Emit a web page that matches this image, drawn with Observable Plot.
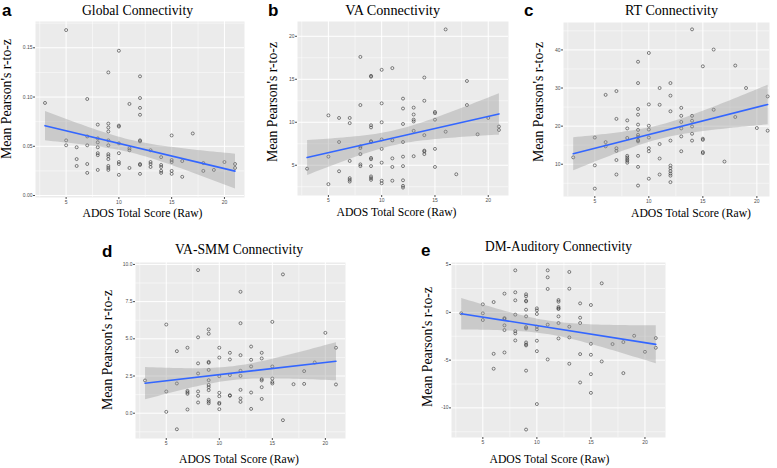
<!DOCTYPE html>
<html><head><meta charset="utf-8">
<script src="https://cdn.jsdelivr.net/npm/d3@7"></script>
<script src="https://cdn.jsdelivr.net/npm/@observablehq/plot@0.6"></script>
<style>
body{margin:0;background:#fff;}
#fig{position:relative;width:777px;height:468px;overflow:hidden;background:#fff;}
</style></head><body><div id="fig"></div><script>
// ---- data ----
const globalX = [3,5,5,5,6,6,6,7,7,7,7,7,8,8,8,8,8,8,8,9,9,9,9,9,9,9,9,9,9,9,9,10,10,10,10,10,10,10,10,11,11,11,11,12,12,12,12,12,12,12,12,12,13,13,13,13,14,14,14,14,14,15,15,15,15,15,16,16,17,18,18,19,20,21,21];
const globalY = [0.094,0.168,0.056,0.051,0.049,0.037,0.030,0.098,0.060,0.051,0.032,0.023,0.072,0.058,0.054,0.049,0.043,0.041,0.026,0.125,0.073,0.069,0.065,0.056,0.051,0.042,0.040,0.037,0.030,0.028,0.026,0.147,0.071,0.070,0.053,0.043,0.034,0.032,0.021,0.093,0.048,0.046,0.028,0.121,0.099,0.089,0.082,0.056,0.055,0.032,0.031,0.022,0.046,0.034,0.032,0.029,0.039,0.031,0.029,0.025,0.023,0.061,0.036,0.034,0.025,0.022,0.035,0.019,0.063,0.033,0.025,0.026,0.034,0.032,0.028];

const vaX = [3,5,5,5,6,6,6,7,7,7,7,7,7,8,8,8,8,8,8,8,9,9,9,9,9,9,9,9,9,9,9,9,10,10,10,10,10,10,10,10,11,11,11,11,11,12,12,12,12,12,12,12,12,12,13,13,13,13,13,13,14,14,14,14,14,14,15,15,15,15,15,16,16,17,18,18,19,20,21,21];
const vaY = [4.6,10.8,6.0,2.8,10.5,7.7,4.3,10.5,9.9,5.5,3.5,3.3,3.1,17.6,12.0,7.2,7.0,6.3,5.1,4.9,15.4,15.3,9.65,9.4,7.8,7.7,5.85,5.7,4.9,3.7,3.5,3.3,16.1,12.2,10.0,8.0,6.9,5.3,3.2,2.9,16.3,7.9,5.8,4.8,3.2,12.75,11.6,9.8,7.7,6.0,4.9,3.25,2.6,2.4,11.7,10.9,10.3,10.1,9.0,6.05,15.2,12.5,8.5,6.7,6.6,6.3,11.2,11.05,10.3,6.9,4.8,20.8,8.9,3.95,14.8,12.0,8.6,10.5,9.5,9.1];

const rtX = [3,5,5,5,6,6,6,7,7,7,7,7,7,8,8,8,8,8,8,8,8,9,9,9,9,9,9,9,9,9,9,9,9,9,10,10,10,10,10,10,10,10,11,11,11,11,11,12,12,12,12,12,12,12,12,12,12,13,13,13,13,13,13,14,14,14,14,14,14,15,15,15,15,15,16,16,17,18,18,19,20,21,21];
const rtY = [11.8,17.0,9.7,3.6,28.2,15.8,14.7,29.2,21.9,14.2,13.5,11.1,7.3,21.5,19.4,16.9,12.2,11.75,11.3,10.9,10.4,36.9,31.3,24.5,23.0,20.4,19.0,17.7,17.1,16.3,16.0,12.2,9.3,4.4,39.2,25.7,20.1,19.1,17.0,14.2,13.4,6.2,30.0,25.6,15.3,11.5,7.3,31.3,28.0,23.9,16.2,9.65,8.95,8.2,7.55,7.0,5.3,24.8,22.7,21.1,19.4,17.3,13.4,45.4,22.7,21.4,19.9,18.0,16.2,35.7,16.7,16.4,13.2,12.9,40.1,24.3,10.7,35.9,22.4,30.0,19.5,27.8,18.8];

const smmX = [3,5,5,5,6,6,6,7,7,7,7,7,8,8,8,8,8,8,8,9,9,9,9,9,9,9,9,9,9,9,9,10,10,10,10,10,10,10,10,11,11,11,11,11,12,12,12,12,12,12,12,12,13,13,13,13,13,14,14,14,14,14,14,15,15,15,15,15,16,16,17,18,18,19,20,21,21];
const smmY = [2.2,5.96,1.46,0.09,4.17,2.0,-1.08,4.4,1.5,1.4,1.3,0.25,9.62,5.1,3.35,2.67,1.46,1.17,0.72,5.63,5.34,3.45,3.39,2.91,2.22,1.9,1.75,1.55,0.9,0.78,0.67,4.4,3.74,2.49,1.37,1.14,0.7,0.63,0.27,4.06,3.61,2.56,1.21,1.17,8.16,6.05,3.9,2.85,2.51,1.57,0.99,0.76,4.48,3.59,3.14,1.39,0.29,4.06,3.68,2.29,2.2,1.75,0.96,6.14,3.14,2.33,2.1,2.0,9.33,-0.47,1.95,2.83,1.97,3.41,5.4,4.4,1.93];

const dmX = [3,5,5,5,6,6,6,7,7,7,7,7,7,8,8,8,8,8,8,8,9,9,9,9,9,9,9,9,9,9,9,9,9,10,10,10,10,10,10,10,10,11,11,11,11,11,12,12,12,12,12,12,12,12,13,13,13,13,13,14,14,14,14,14,15,15,15,15,15,16,16,17,18,18,19,20,21,21];
const dmY = [-0.1,0.84,-0.1,-0.8,1.08,-4.34,-5.9,1.96,-0.6,-0.7,-1.36,-1.85,-4.2,4.4,2.1,1.26,-0.24,-1.96,-2.2,-2.94,1.89,1.68,1.22,1.15,0.28,-0.42,-1.54,-1.68,-3.15,-3.36,-3.46,-6.1,-12.27,0.42,0.21,-0.17,-1.5,-1.78,-2.97,-4.06,-9.6,4.4,3.67,2.45,-1.29,-4.93,1.29,1.12,0.56,0.42,0.35,-0.42,-1.12,-2.73,4.23,2.48,-1.5,-2.62,-5.38,0.94,-0.56,-1.12,-4.37,-7.34,0.77,-3.29,-4.44,-6.47,-8.43,3.04,-5.14,-3.32,-3.11,-6.36,-2.45,-4.13,-2.69,-3.71];

// tick values
const xTicks = [5, 10, 15, 20];
const xMinor = [2.5, 7.5, 12.5, 17.5];
const globalTicks = [0, 0.05, 0.10, 0.15];
const vaTicks = [5, 10, 15, 20];
const rtTicks = [10, 20, 30, 40];
const smmTicks = [0, 2.5, 5, 7.5, 10];
const dmTicks = [-10, -5, 0, 5];

const titles = ["Global Connectivity", "VA Connectivity", "RT Connectivity", "VA-SMM Connectivity", "DM-Auditory Connectivity"];
const letters = ["a", "b", "c", "d", "e"];
const xTitle = "ADOS Total Score (Raw)";
const yTitle = "Mean Pearson's r-to-z";

const minorOf = t => { const s = t[1]-t[0]; return [t[0]-s/2, ...t.map(v => v + s/2)]; };

const panels = [
  {x: globalX, y: globalY, frame: [35, 21, 244, 197], xd: [2.1, 21.9], yd: [-0.002, 0.1767], yt: globalTicks, fmt: d3.format(".2f"),
   letter: [2, 16], title: [137.5, 15, 111], xt: [142.5, 217], yl: [11, 99]},
  {x: vaX, y: vaY, frame: [297, 21, 508, 195], xd: [2.1, 21.9], yd: [1.48, 21.72], yt: vaTicks, fmt: d => String(d),
   letter: [268, 16], title: [392.7, 15, 95], xt: [396.5, 216], yl: [277, 102]},
  {x: rtX, y: rtY, frame: [563, 22, 769, 196], xd: [2.1, 21.17], yd: [1.53, 47.2], yt: rtTicks, fmt: d => String(d),
   letter: [524, 16], title: [671.5, 15, 93], xt: [691, 217], yl: [543, 102]},
  {x: smmX, y: smmY, frame: [135, 262, 345, 438], xd: [2.1, 21.9], yd: [-1.7, 10.13], yt: smmTicks, fmt: d3.format(".1f"),
   letter: [102, 257], title: [239, 254, 128], xt: [239, 463], yl: [112, 350]},
  {x: dmX, y: dmY, frame: [451, 262, 665, 437], xd: [2.1, 21.9], yd: [-13.1, 5.22], yt: dmTicks, fmt: d => String(d),
   letter: [421, 256], title: [558.5, 251, 147], xt: [549.5, 463], yl: [432, 347]}
];

const fig = document.getElementById("fig");
const ml = 26, mr = 2, mt = 2, mb = 12;
panels.forEach(p => {
  const data = p.x.map((x, i) => ({x, y: p.y[i]}));
  const fw = p.frame[2] - p.frame[0], fh = p.frame[3] - p.frame[1];
  const inY = v => v >= p.yd[0] && v <= p.yd[1];
  const inX = v => v >= p.xd[0] && v <= p.xd[1];
  const grid = {stroke: "#ffffff", strokeOpacity: 1};
  const chart = Plot.plot({
    width: fw + ml + mr, height: fh + mt + mb,
    marginLeft: ml, marginRight: mr, marginTop: mt, marginBottom: mb,
    x: {domain: p.xd}, y: {domain: p.yd},
    style: {background: "transparent", color: "#4D4D4D", fontFamily: "Liberation Sans, Arial, sans-serif", overflow: "visible"},
    marks: [
      Plot.frame({fill: "#EBEBEB", stroke: "none"}),
      Plot.gridX(xMinor.filter(inX), {...grid, strokeWidth: 0.5}),
      Plot.gridY(minorOf(p.yt).filter(inY), {...grid, strokeWidth: 0.5}),
      Plot.gridX(xTicks, {...grid, strokeWidth: 1}),
      Plot.gridY(p.yt, {...grid, strokeWidth: 1}),
      Plot.dot(data, {x: "x", y: "y", r: 1.5, stroke: "#333333", strokeWidth: 0.6, fill: "none"}),
      Plot.linearRegressionY(data, {x: "x", y: "y", stroke: "#3366FF", strokeWidth: 1.6, fill: "#999999", fillOpacity: 0.4, ci: 0.95}),
      Plot.axisX({ticks: xTicks, tickSize: 2, tickPadding: 1, fontSize: 5, label: null, tickFormat: d => String(d)}),
      Plot.axisY({ticks: p.yt, tickSize: 2, tickPadding: 1, fontSize: 5, label: null, tickFormat: p.fmt})
    ]
  });
  chart.style.position = "absolute";
  chart.style.left = (p.frame[0] - ml) + "px";
  chart.style.top = (p.frame[1] - mt) + "px";
  chart.style.maxWidth = "none";
  fig.appendChild(chart);
});

// text overlay
const ov = d3.select(fig).append("svg")
  .attr("width", 777).attr("height", 468)
  .style("position", "absolute").style("left", "0px").style("top", "0px")
  .style("pointer-events", "none");
const serif = "Liberation Serif, Times New Roman, serif";
panels.forEach((p, i) => {
  ov.append("text").attr("x", p.letter[0]).attr("y", p.letter[1])
    .attr("font-family", "Liberation Sans, Arial, sans-serif").attr("font-weight", "bold").attr("font-size", 17)
    .text(letters[i]);
  ov.append("text").attr("x", p.title[0]).attr("y", p.title[1]).attr("text-anchor", "middle")
    .attr("font-family", serif).attr("font-size", 14)
    .attr("textLength", p.title[2]).attr("lengthAdjust", "spacingAndGlyphs")
    .text(titles[i]);
  ov.append("text").attr("x", p.xt[0]).attr("y", p.xt[1]).attr("text-anchor", "middle")
    .attr("font-family", serif).attr("font-size", 13.5)
    .attr("textLength", 120).attr("lengthAdjust", "spacingAndGlyphs")
    .text(xTitle);
  ov.append("text").attr("transform", `translate(${p.yl[0]},${p.yl[1]}) rotate(-90)`).attr("text-anchor", "middle")
    .attr("font-family", serif).attr("font-size", 14)
    .attr("textLength", 120).attr("lengthAdjust", "spacingAndGlyphs")
    .text(yTitle);
});
</script></body></html>
